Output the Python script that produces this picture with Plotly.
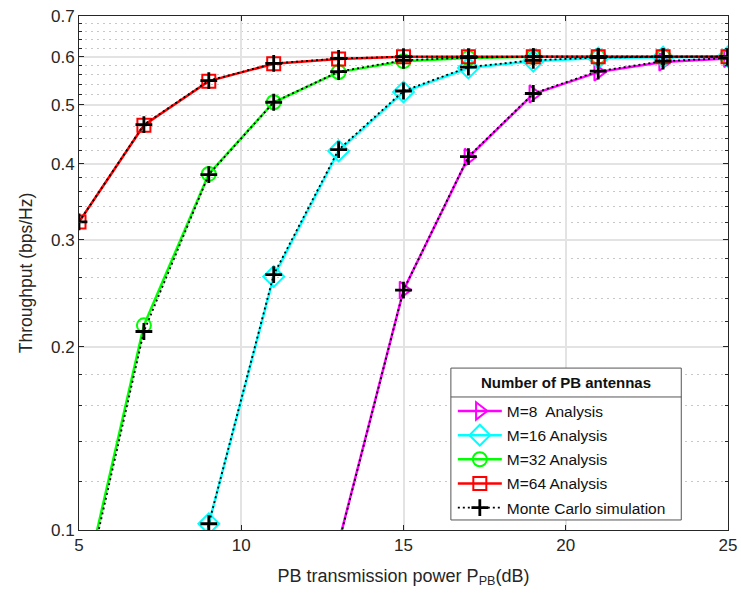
import plotly.graph_objects as go

x_db = [5, 7, 9, 11, 13, 15, 17, 19, 21, 23, 25]

# Analysis curves (throughput, bps/Hz)
m8_analysis = [0.005, 0.01, 0.02, 0.045, 0.0953, 0.248, 0.410, 0.521, 0.566, 0.588, 0.596]
m16_analysis = [0.01, 0.025, 0.1024, 0.261, 0.420, 0.525, 0.575, 0.590, 0.597, 0.599, 0.600]
m32_analysis = [0.074, 0.217, 0.385, 0.505, 0.566, 0.590, 0.597, 0.600, 0.600, 0.600, 0.600]
m64_analysis = [0.321, 0.463, 0.547, 0.584, 0.595, 0.600, 0.600, 0.600, 0.600, 0.600, 0.600]

# Monte Carlo simulation
m8_sim = [0.005, 0.01, 0.02, 0.045, 0.095, 0.248, 0.411, 0.522, 0.568, 0.590, 0.597]
m16_sim = [0.01, 0.025, 0.1024, 0.263, 0.422, 0.527, 0.577, 0.592, 0.598, 0.600, 0.600]
m32_sim = [0.072, 0.212, 0.384, 0.505, 0.567, 0.592, 0.598, 0.600, 0.600, 0.600, 0.600]
m64_sim = [0.321, 0.464, 0.548, 0.585, 0.596, 0.600, 0.600, 0.600, 0.600, 0.600, 0.600]

labels = ["M=8  Analysis", "M=16 Analysis", "M=32 Analysis", "M=64 Analysis"]
colors = ["#ff00ff", "#00ffff", "#00ff00", "#ff0000"]
symbols = ["triangle-right-open", "diamond-open", "circle-open", "square-open"]
sizes = [15, 16, 14, 13]
analysis = [m8_analysis, m16_analysis, m32_analysis, m64_analysis]
sims = [m8_sim, m16_sim, m32_sim, m64_sim]
legend_title = "Number of PB antennas"

y_major = [0.1, 0.2, 0.3, 0.4, 0.5, 0.6, 0.7]
y_minor = [0.12, 0.14, 0.16, 0.18, 0.22, 0.24, 0.26, 0.28, 0.32, 0.34, 0.36, 0.38,
           0.42, 0.44, 0.46, 0.48, 0.52, 0.54, 0.56, 0.58, 0.62, 0.64, 0.66, 0.68]
x_ticks = [5, 10, 15, 20, 25]

fig = go.Figure()
for k, (lab, c, s, sz, ys) in enumerate(zip(labels, colors, symbols, sizes, analysis)):
    fig.add_trace(go.Scatter(
        x=x_db, y=ys, mode="lines+markers", name=lab, legendgroup=f"g{k}",
        line=dict(color=c, width=2.5),
        marker=dict(symbol=s, size=sz, color=c, line=dict(color=c, width=2)),
    ))
for i, ys in enumerate(sims):
    fig.add_trace(go.Scatter(
        x=x_db, y=ys, mode="lines+markers", name="Monte Carlo simulation",
        showlegend=(i == 0), legendgroup="mc",
        line=dict(color="black", width=1.8, dash="2px,3px"),
        marker=dict(symbol="cross-thin", size=12, color="black", line=dict(color="black", width=2.8)),
    ))

# legend frame (x 451-681, y 368-520 px) and its title separator
lx0, lx1, ly0, ly1, lsep = 0.573, 0.928, 0.0195, 0.315, 0.2588

fig.update_layout(
    width=741, height=595,
    margin=dict(l=79, r=13, t=16, b=65),
    paper_bgcolor="white", plot_bgcolor="white",
    font=dict(family="Liberation Sans, Arial, sans-serif", size=17, color="#262626"),
    showlegend=True,
    legend=dict(
        x=lx0 + 0.003, y=lsep + 0.005, xanchor="left", yanchor="top",
        bgcolor="rgba(0,0,0,0)", borderwidth=0,
        font=dict(size=15.5, color="#111111"),
        tracegroupgap=1, itemwidth=44,
    ),
    shapes=[
        dict(type="rect", xref="paper", yref="paper", x0=lx0, x1=lx1, y0=ly0, y1=ly1, layer="above",
             fillcolor="white", line=dict(color="#555555", width=1)),
        dict(type="line", xref="paper", yref="paper", x0=lx0, x1=lx1, y0=lsep, y1=lsep, layer="above",
             line=dict(color="#555555", width=1)),
    ],
    annotations=[
        dict(text="<b>" + legend_title + "</b>", xref="paper", yref="paper",
             x=(lx0 + lx1) / 2, y=(ly1 + lsep) / 2, xanchor="center", yanchor="middle",
             showarrow=False, font=dict(size=15, color="#111111")),
    ],
)
fig.update_xaxes(
    range=[5, 25], tickvals=x_ticks, ticktext=[str(v) for v in x_ticks],
    showline=True, linecolor="#262626", linewidth=1, mirror="ticks",
    ticks="inside", ticklen=5, tickcolor="#262626",
    showgrid=True, gridcolor="#e3e3e3", gridwidth=1.5,
    zeroline=False, automargin=False,
    title=dict(text="PB transmission power P<sub>PB</sub>(dB)", font=dict(size=18), standoff=14),
    tickfont=dict(size=17),
)
fig.update_yaxes(
    type="log", range=[-1, -0.154902],
    tickvals=y_major, ticktext=[str(v) for v in y_major],
    showline=True, linecolor="#262626", linewidth=1, mirror="ticks",
    ticks="inside", ticklen=5, tickcolor="#262626",
    showgrid=True, gridcolor="#e3e3e3", gridwidth=1.5,
    zeroline=False, automargin=False,
    minor=dict(tickmode="array", tickvals=y_minor, ticks="inside", ticklen=3,
               tickcolor="#262626", showgrid=True, gridcolor="#c8c8c8", griddash="2px,4px", gridwidth=1),
    title=dict(text="Throughput (bps/Hz)", font=dict(size=17.5), standoff=13),
    tickfont=dict(size=17),
)

fig.write_html("out.html")
